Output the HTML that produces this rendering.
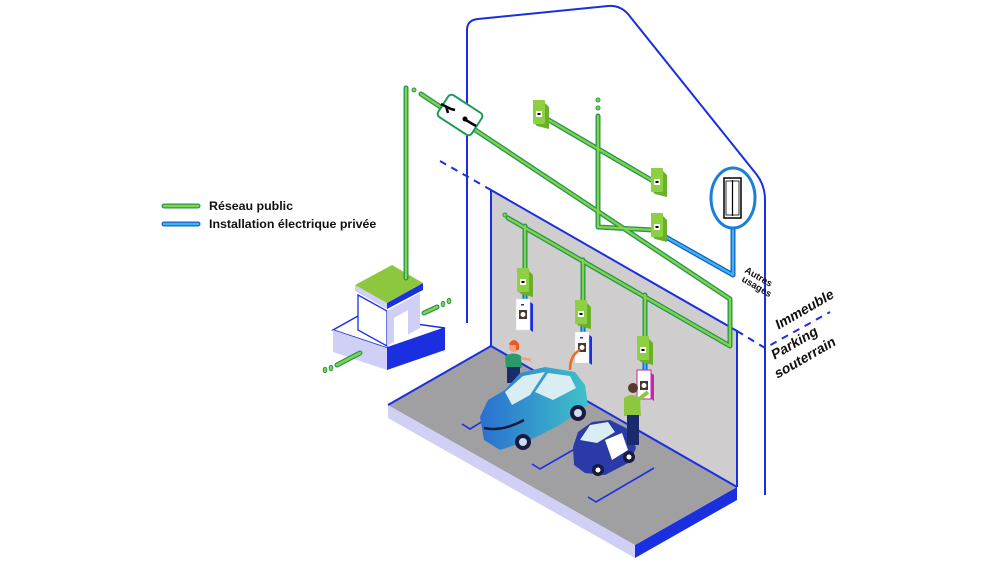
<!DOCTYPE html>
<html><head><meta charset="utf-8"><style>
html,body{margin:0;padding:0;background:#fff;}
svg{display:block;}
text{font-family:"Liberation Sans",sans-serif;}
</style></head><body>
<svg width="1000" height="562" viewBox="0 0 1000 562" xmlns="http://www.w3.org/2000/svg">
<defs>
<linearGradient id="car" x1="0" y1="0" x2="1" y2="0"><stop offset="0" stop-color="#2a6fd0"/><stop offset="1" stop-color="#3fc2c8"/></linearGradient>
</defs>
<!-- legend -->
<line x1="164" y1="206" x2="198" y2="206" stroke="#1f9a5a" stroke-width="5" stroke-linecap="round"/>
<line x1="164" y1="206" x2="198" y2="206" stroke="#8dd043" stroke-width="2.5" stroke-linecap="round"/>
<line x1="164" y1="224" x2="198" y2="224" stroke="#1a5fd0" stroke-width="5" stroke-linecap="round"/>
<line x1="164" y1="224" x2="198" y2="224" stroke="#3ab8e8" stroke-width="2.5" stroke-linecap="round"/>
<text x="209" y="210" font-size="12.4" font-weight="bold" fill="#111">Réseau public</text>
<text x="209" y="228" font-size="12.4" font-weight="bold" fill="#111">Installation électrique privée</text>

<!-- building outline -->
<path d="M467,323 V30 Q467,20 478,19 L608,6 Q620,5 628,14 L757,175 Q765,186 765,200 V495" fill="none" stroke="#1a2fe0" stroke-width="2"/>
<!-- dashed lines -->
<line x1="440" y1="161" x2="491" y2="190" stroke="#1a2fe0" stroke-width="2" stroke-dasharray="7,6"/>
<polyline points="737,331 765,348 830,312" fill="none" stroke="#1a2fe0" stroke-width="2" stroke-dasharray="7,6"/>

<!-- back wall -->
<polygon points="491,190 737,331 737,487 491,346" fill="#cfcdce"/>
<polyline points="491,346 491,190 737,331 737,487" fill="none" stroke="#1a2fe0" stroke-width="2"/>
<!-- floor slab -->
<polygon points="388,405 635,545 635,558 388,418" fill="#d0d0f6"/>
<polygon points="635,545 737,487 737,500 635,558" fill="#1a2fe0"/>
<polygon points="491,346 737,487 635,545 388,405" fill="#a09fa1"/>
<polyline points="388,405 491,346 737,487" fill="none" stroke="#1a2fe0" stroke-width="2"/>
<!-- parking lines -->
<g stroke="#1a2fe0" stroke-width="1.6" fill="none">
<polyline points="462,424 470,429 483,421"/>
<polyline points="532,464 540,469 580,446"/>
<polyline points="588,497 596,502 654,468"/>
</g>

<!-- substation -->
<polygon points="333,330 358,316 445,328 387,348" fill="#fff" stroke="#1a2fe0" stroke-width="1.5"/>
<polygon points="333,330 387,348 387,370 333,352" fill="#d0d0f6"/>
<polygon points="387,348 445,328 445,350 387,370" fill="#1a2fe0"/>
<polygon points="358,295 387,311 387,346 358,330" fill="#fff" stroke="#1a2fe0" stroke-width="1.3"/>
<polygon points="387,311 420,293 420,328 387,346" fill="#d0d0f6"/>
<polygon points="394,344 394,318 408,310 408,336" fill="#fff"/>
<polygon points="355,285 355,291 387,309 387,303" fill="#d0d0f6"/>
<polygon points="387,303 423,283 423,290 387,309" fill="#1a2fe0"/>
<polygon points="355,285 392,265 423,283 387,303" fill="#8dc63f"/>
<g stroke-linecap="round">
<line x1="337" y1="365" x2="360" y2="353" stroke="#1f9a5a" stroke-width="5"/><line x1="337" y1="365" x2="360" y2="353" stroke="#8dd043" stroke-width="2.5"/>
<line x1="424" y1="313" x2="437" y2="307" stroke="#1f9a5a" stroke-width="5"/><line x1="424" y1="313" x2="437" y2="307" stroke="#8dd043" stroke-width="2.5"/>
</g>
<g fill="#8dd043" stroke="#1f9a5a" stroke-width="1"><ellipse cx="325" cy="370" rx="1.8" ry="2.8"/><ellipse cx="331" cy="368" rx="1.8" ry="2.8"/><ellipse cx="443" cy="304" rx="1.8" ry="2.8"/><ellipse cx="449" cy="301" rx="1.8" ry="2.8"/></g>

<!-- green pipes -->
<g fill="none" stroke-linecap="round" stroke-linejoin="round">
<g stroke="#1f9a5a" stroke-width="5">
<line x1="406" y1="88" x2="406" y2="278"/>
<polyline points="421,94 730,299 730,346 508,218"/>
<line x1="525" y1="226" x2="525" y2="270"/>
<line x1="583" y1="260" x2="583" y2="300"/>
<line x1="645" y1="295" x2="645" y2="340"/>
<line x1="547" y1="119" x2="653" y2="181"/>
<polyline points="598,116 598,227 653,230"/>
</g>
<g stroke="#8dd043" stroke-width="2.3">
<line x1="406" y1="88" x2="406" y2="278"/>
<polyline points="421,94 730,299 730,346 508,218"/>
<line x1="525" y1="226" x2="525" y2="270"/>
<line x1="583" y1="260" x2="583" y2="300"/>
<line x1="645" y1="295" x2="645" y2="340"/>
<line x1="547" y1="119" x2="653" y2="181"/>
<polyline points="598,116 598,227 653,230"/>
</g>
<!-- blue private -->
<g stroke="#1a5fd0" stroke-width="5"><polyline points="664,236 733,275 733,228"/><line x1="525" y1="290" x2="525" y2="300"/><line x1="583" y1="320" x2="583" y2="332"/><line x1="645" y1="358" x2="645" y2="370"/></g>
<g stroke="#3ab8e8" stroke-width="2.3"><polyline points="664,236 733,275 733,228"/><line x1="525" y1="290" x2="525" y2="300"/><line x1="583" y1="320" x2="583" y2="332"/><line x1="645" y1="358" x2="645" y2="370"/></g>
</g>
<g fill="#8dd043" stroke="#1f9a5a" stroke-width="1"><circle cx="414" cy="90" r="2"/><circle cx="598" cy="100" r="2"/><circle cx="598" cy="108" r="2"/><circle cx="505" cy="215" r="2"/></g>

<!-- switch box -->
<g transform="translate(460,115) rotate(33)">
<rect x="-20" y="-13" width="40" height="26" rx="4" fill="#fff" stroke="#1f9a5a" stroke-width="2"/>
</g>
<path d="M441,104 L451,109 M446,106 l2,7 M451,109 L455,110" stroke="#000" stroke-width="2.5" fill="none"/>
<path d="M464,119 L476,126" stroke="#000" stroke-width="2.5"/><circle cx="465" cy="119" r="2.5" fill="#000"/>

<!-- elevator circle -->
<ellipse cx="733" cy="198" rx="22" ry="30" fill="#fff" stroke="#1a7fd8" stroke-width="3"/>
<rect x="724" y="178" width="17" height="40" fill="#fff" stroke="#000" stroke-width="1.5"/>
<line x1="732.5" y1="180" x2="732.5" y2="216" stroke="#000" stroke-width="1.2"/>
<rect x="726" y="181" width="13" height="34" fill="none" stroke="#000" stroke-width="0.8"/>

<!-- meters -->
<g>
<g transform="translate(533,100)"><polygon points="0,0 12,3 16,7 16,29 4,26 0,22" fill="#6ab02a"/><rect x="0" y="0" width="12" height="24" rx="1" fill="#8dd043"/><rect x="3" y="11" width="6" height="6" fill="#fff"/><rect x="4.5" y="13" width="3" height="2" fill="#000"/></g>
<g transform="translate(651,168)"><polygon points="0,0 12,3 16,7 16,29 4,26 0,22" fill="#6ab02a"/><rect x="0" y="0" width="12" height="24" rx="1" fill="#8dd043"/><rect x="3" y="11" width="6" height="6" fill="#fff"/><rect x="4.5" y="13" width="3" height="2" fill="#000"/></g>
<g transform="translate(651,213)"><polygon points="0,0 12,3 16,7 16,29 4,26 0,22" fill="#6ab02a"/><rect x="0" y="0" width="12" height="24" rx="1" fill="#8dd043"/><rect x="3" y="11" width="6" height="6" fill="#fff"/><rect x="4.5" y="13" width="3" height="2" fill="#000"/></g>
<g transform="translate(517,268)"><polygon points="0,0 12,3 16,7 16,29 4,26 0,22" fill="#6ab02a"/><rect x="0" y="0" width="12" height="24" rx="1" fill="#8dd043"/><rect x="3" y="11" width="6" height="6" fill="#fff"/><rect x="4.5" y="13" width="3" height="2" fill="#000"/></g>
<g transform="translate(575,300)"><polygon points="0,0 12,3 16,7 16,29 4,26 0,22" fill="#6ab02a"/><rect x="0" y="0" width="12" height="24" rx="1" fill="#8dd043"/><rect x="3" y="11" width="6" height="6" fill="#fff"/><rect x="4.5" y="13" width="3" height="2" fill="#000"/></g>
<g transform="translate(637,336)"><polygon points="0,0 12,3 16,7 16,29 4,26 0,22" fill="#6ab02a"/><rect x="0" y="0" width="12" height="24" rx="1" fill="#8dd043"/><rect x="3" y="11" width="6" height="6" fill="#fff"/><rect x="4.5" y="13" width="3" height="2" fill="#000"/></g>
</g>
<!-- chargers -->
<g transform="translate(516,299)"><polygon points="13,2 17,5 17,33 13,30" fill="#1a2fe0"/><rect x="0" y="0" width="14" height="31" fill="#fff" stroke="#ddd" stroke-width="0.5"/><rect x="3" y="11" width="8" height="9" fill="#4a3530"/><circle cx="7" cy="15.5" r="2.5" fill="#fff"/><rect x="5" y="5" width="3" height="1.5" fill="#1a2fe0"/></g>
<g transform="translate(575,332)"><polygon points="13,2 17,5 17,33 13,30" fill="#1a2fe0"/><rect x="0" y="0" width="14" height="31" fill="#fff" stroke="#ddd" stroke-width="0.5"/><rect x="3" y="11" width="8" height="9" fill="#4a3530"/><circle cx="7" cy="15.5" r="2.5" fill="#fff"/><rect x="5" y="5" width="3" height="1.5" fill="#1a2fe0"/></g>
<g transform="translate(637,370)"><polygon points="13,2 17,5 17,31 13,28" fill="#c02aa8"/><rect x="0" y="0" width="14" height="29" fill="#fff" stroke="#c02aa8" stroke-width="1"/><rect x="3" y="11" width="8" height="9" fill="#4a3530"/><circle cx="7" cy="15.5" r="2.5" fill="#fff"/></g>
<!-- cable -->
<path d="M580,350 Q570,355 570,370" stroke="#f06a20" stroke-width="2.5" fill="none"/>

<!-- woman -->
<circle cx="514" cy="347" r="5" fill="#f0a080"/><path d="M509,344 q5,-8 10,0 v6 h-3 v-5 h-6z" fill="#e85a20"/>
<path d="M505,356 q9,-5 16,0 l1,12 h-16z" fill="#2a9a6a"/><path d="M521,358 l10,2" stroke="#f0a080" stroke-width="2.5"/>
<rect x="507" y="367" width="13" height="16" fill="#1a2a6a"/>

<!-- blue car -->
<path d="M480,417 L488,400 L505,390 L520,373 L545,367 L575,372 L585,385 L588,405 L560,425 L530,440 L500,450 L484,440z" fill="url(#car)"/>
<path d="M505,392 L523,376 L545,372 L530,395 L512,405z" fill="#d8eef2"/>
<path d="M535,392 L548,373 L570,376 L576,388 L553,400z" fill="#d8eef2"/>
<path d="M484,428 q18,4 40,-8" stroke="#1a1a40" stroke-width="2.5" fill="none"/>
<circle cx="523" cy="442" r="8" fill="#1a1a40"/><circle cx="523" cy="442" r="4" fill="#cde"/>
<circle cx="578" cy="413" r="8" fill="#1a1a40"/><circle cx="578" cy="413" r="4" fill="#cde"/>

<!-- small car -->
<path d="M573,447 L578,432 L592,422 L610,420 L630,430 L636,448 L630,462 L605,475 L585,473 L574,465z" fill="#2a3aa8"/>
<path d="M580,440 L590,425 L608,422 L615,432 L597,443z" fill="#d8eef2"/>
<path d="M605,440 L622,433 L628,450 L612,460z" fill="#fff"/>
<circle cx="598" cy="470" r="6" fill="#1a1a40"/><circle cx="598" cy="470" r="2.5" fill="#fff"/>
<circle cx="629" cy="457" r="6" fill="#1a1a40"/><circle cx="629" cy="457" r="2.5" fill="#fff"/>

<!-- man -->
<circle cx="633" cy="388" r="5" fill="#5a3a2a"/>
<path d="M624,398 q8,-6 16,0 l1,18 h-17z" fill="#8dc63f"/><path d="M638,400 l10,-8" stroke="#8dc63f" stroke-width="4"/>
<rect x="627" y="415" width="12" height="30" fill="#1a2a6a"/>

<!-- labels -->
<text transform="translate(744,272) rotate(30)" font-size="9.5" font-weight="bold" fill="#111">Autres</text>
<text transform="translate(741,281) rotate(30)" font-size="9.5" font-weight="bold" fill="#111">usages</text>
<text transform="translate(778,330) rotate(-30) skewX(-10)" font-size="14" font-weight="bold" fill="#111">Immeuble</text>
<text transform="translate(774,360) rotate(-30) skewX(-10)" font-size="14" font-weight="bold" fill="#111">Parking</text>
<text transform="translate(777,379) rotate(-30) skewX(-10)" font-size="14" font-weight="bold" fill="#111">souterrain</text>
</svg>
</body></html>
